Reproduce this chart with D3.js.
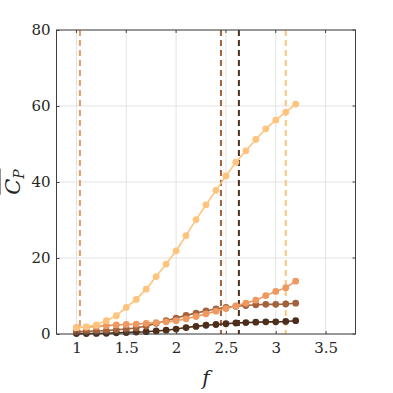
<!DOCTYPE html>
<html>
<head>
<meta charset="utf-8">
<script src="https://cdn.jsdelivr.net/npm/d3@7"></script>
<style>
  body { margin: 0; background: #fff; }
  text { font-family: "DejaVu Serif", serif; }
</style>
</head>
<body>
<svg id="chart" width="393" height="393"></svg>
<script>
const freqs = [1.0, 1.1, 1.2, 1.3, 1.4, 1.5, 1.6, 1.7, 1.8, 1.9, 2.0, 2.1,
               2.2, 2.3, 2.4, 2.5, 2.6, 2.7, 2.8, 2.9, 3.0, 3.1, 3.2];

const cpYellow = [1.6, 1.9, 2.4, 3.5, 4.8, 7.0, 9.1, 11.8, 15.1, 18.4, 21.9, 25.9,
                  30.1, 34.0, 37.8, 41.6, 45.2, 48.2, 51.2, 54.0, 56.3, 58.4, 60.5];
const cpOrange = [1.7, 1.8, 2.0, 2.2, 2.4, 2.5, 2.6, 2.8, 3.0, 3.2, 3.5, 4.0,
                  4.6, 5.3, 6.0, 6.7, 7.4, 8.1, 8.9, 10.1, 11.2, 12.2, 13.9];
const cpBrown  = [0.6, 0.7, 0.8, 0.9, 1.1, 1.3, 1.6, 2.1, 2.8, 3.5, 4.2, 4.9,
                  5.5, 6.1, 6.6, 7.0, 7.3, 7.5, 7.7, 7.8, 7.8, 7.9, 8.1];
const cpDark   = [0.1, 0.1, 0.15, 0.2, 0.3, 0.4, 0.5, 0.6, 0.8, 1.0, 1.3, 1.7,
                  2.0, 2.3, 2.5, 2.7, 2.9, 3.0, 3.1, 3.2, 3.2, 3.3, 3.5];

const seriesColors = ["#fec47e", "#ee9862", "#a2623c", "#4c2e1a"];
const cutoffs = [3.1, 1.035, 2.45, 2.63];   // dashed verticals, same order as colours

const xTicks = [1, 1.5, 2, 2.5, 3, 3.5];
const yTicks = [0, 20, 40, 60, 80];

const svg = d3.select("#chart");
const mLeft = 56.5, mRight = 355.5, mTop = 30, mBottom = 334;

const x = d3.scaleLinear().domain([0.8, 3.8]).range([mLeft, mRight]);
const y = d3.scaleLinear().domain([0, 80]).range([mBottom, mTop]);

// grid
svg.append("g").selectAll("line").data(xTicks).enter().append("line")
    .attr("x1", d => x(d)).attr("x2", d => x(d))
    .attr("y1", mTop).attr("y2", mBottom)
    .attr("stroke", "#e3e3e3").attr("stroke-width", 1);
svg.append("g").selectAll("line").data(yTicks).enter().append("line")
    .attr("x1", mLeft).attr("x2", mRight)
    .attr("y1", d => y(d)).attr("y2", d => y(d))
    .attr("stroke", "#e3e3e3").attr("stroke-width", 1);

// dashed verticals
svg.append("g").selectAll("line").data(cutoffs).enter().append("line")
    .attr("x1", d => x(d)).attr("x2", d => x(d))
    .attr("y1", mTop).attr("y2", mBottom)
    .attr("stroke", (d, i) => seriesColors[i])
    .attr("stroke-width", 2)
    .attr("stroke-dasharray", "6,4");

// series (dark first so lighter ones sit on top like the reference)
const allSeries = [cpYellow, cpOrange, cpBrown, cpDark];
const line = d3.line().x((d, i) => x(freqs[i])).y(d => y(d));

const order = [3, 2, 1, 0];
order.forEach(k => {
    const g = svg.append("g");
    g.append("path")
        .datum(allSeries[k])
        .attr("d", line)
        .attr("fill", "none")
        .attr("stroke", seriesColors[k])
        .attr("stroke-width", 1.6);
    g.selectAll("circle").data(allSeries[k]).enter().append("circle")
        .attr("cx", (d, i) => x(freqs[i]))
        .attr("cy", d => y(d))
        .attr("r", 3.4)
        .attr("fill", seriesColors[k]);
});

// axes: box with inward ticks
const axisColor = "#404040";
svg.append("rect")
    .attr("x", mLeft).attr("y", mTop)
    .attr("width", mRight - mLeft).attr("height", mBottom - mTop)
    .attr("fill", "none").attr("stroke", axisColor).attr("stroke-width", 1);

const xAxis = d3.axisBottom(x).tickValues(xTicks).tickSize(-3).tickPadding(8)
    .tickFormat(d3.format("~g"));
const gx = svg.append("g").attr("transform", `translate(0,${mBottom})`).call(xAxis);
const yAxis = d3.axisLeft(y).tickValues(yTicks).tickSize(-3).tickPadding(6);
const gy = svg.append("g").attr("transform", `translate(${mLeft},0)`).call(yAxis);

[gx, gy].forEach(g => {
    g.select(".domain").remove();
    g.selectAll(".tick line").attr("stroke", axisColor);
    g.selectAll(".tick text")
        .attr("fill", "#262626")
        .attr("font-family", '"DejaVu Serif", serif')
        .attr("font-size", "15px");
});

// top and right ticks
svg.append("g").selectAll("line").data(xTicks).enter().append("line")
    .attr("x1", d => x(d)).attr("x2", d => x(d))
    .attr("y1", mTop).attr("y2", mTop + 3).attr("stroke", axisColor);
svg.append("g").selectAll("line").data(yTicks).enter().append("line")
    .attr("x1", mRight).attr("x2", mRight - 3)
    .attr("y1", d => y(d)).attr("y2", d => y(d)).attr("stroke", axisColor);

// x label
svg.append("text")
    .attr("x", (mLeft + mRight) / 2).attr("y", 385)
    .attr("text-anchor", "middle")
    .style("font-size", "20px").style("font-style", "italic")
    .attr("fill", "#262626")
    .text("f");

// y label with overline
const yl = svg.append("g").attr("transform", `translate(20,${(mTop + mBottom) / 2}) rotate(-90)`);
const ylt = yl.append("text")
    .attr("text-anchor", "middle")
    .style("font-size", "21px").style("font-style", "italic")
    .attr("fill", "#262626");
ylt.append("tspan").text("C");
ylt.append("tspan").attr("dy", 4).style("font-size", "14px").text("P");
const bb = ylt.node().getBBox();
yl.append("line")
    .attr("x1", bb.x).attr("x2", bb.x + bb.width)
    .attr("y1", bb.y - 1).attr("y2", bb.y - 1)
    .attr("stroke", "#262626").attr("stroke-width", 1);
</script>
</body>
</html>
